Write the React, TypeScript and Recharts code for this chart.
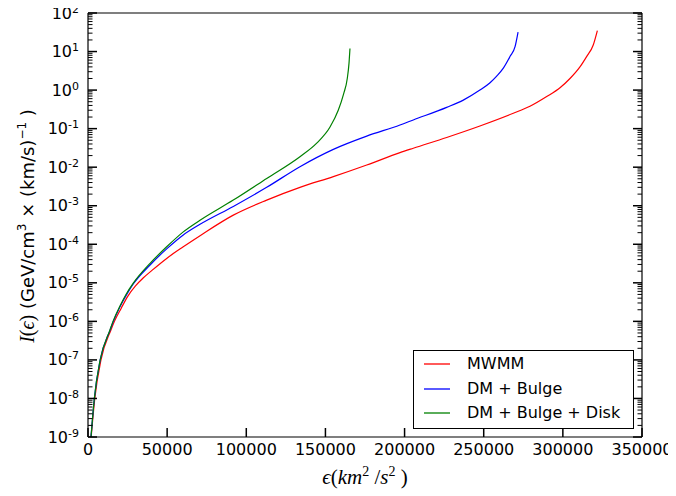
import { LineChart, Line, XAxis, YAxis, Legend, Label } from 'recharts';

// energy (km^2/s^2) and I(e), one pair of arrays per model
const mwmmE = [2000, 4300, 8200, 14500, 16700, 21000, 25000, 30000, 35000, 40400, 49700, 60200, 72000, 91800, 112900, 133900, 155000, 176100, 197100, 205500, 226600, 247600, 268700, 279200, 289800, 298200, 304500, 310800, 315000, 319200, 321800];
const mwmmI = [1e-9, 1e-8, 1e-7, 6e-7, 1e-6, 2.2e-6, 4.4e-6, 8.3e-6, 1.35e-5, 2.1e-5, 4.3e-5, 8.6e-5, 1.8e-4, 5.7e-4, 1.4e-3, 3.0e-3, 5.7e-3, 0.0114, 0.0238, 0.031, 0.059, 0.117, 0.25, 0.38, 0.68, 1.15, 2.0, 4.0, 7.4, 14.8, 35];

const bulgeE = [1900, 4000, 7700, 14000, 16000, 20200, 24200, 28600, 39200, 49700, 60200, 70760, 91800, 112900, 133900, 155000, 176100, 197100, 205500, 226600, 237100, 247600, 254000, 258200, 262400, 266600, 269800, 271700];
const bulgeI = [1e-9, 1e-8, 1e-7, 6e-7, 1e-6, 2.4e-6, 4.8e-6, 9.3e-6, 2.9e-5, 7.6e-5, 1.75e-4, 3.3e-4, 9.6e-4, 3.0e-3, 0.0103, 0.029, 0.064, 0.124, 0.168, 0.357, 0.55, 1.0, 1.55, 2.3, 3.7, 7.4, 13.4, 32];

const diskE = [1900, 4000, 7700, 13900, 15800, 20200, 24000, 28600, 39200, 49700, 60200, 70760, 91800, 112900, 133900, 144500, 152900, 158100, 161500, 163800, 164900, 165500];
const diskI = [1e-9, 1e-8, 1e-7, 6e-7, 1e-6, 2.5e-6, 5e-6, 9.8e-6, 3.2e-5, 8.6e-5, 2.1e-4, 4.2e-4, 1.4e-3, 5.1e-3, 0.0187, 0.042, 0.11, 0.3, 0.8, 2.0, 5.0, 12];

const seriesNames = ['MWMM', 'DM + Bulge', 'DM + Bulge + Disk'];
const seriesColors = ['#ff0000', '#0000ff', '#008000'];

const xTicks = [0, 50000, 100000, 150000, 200000, 250000, 300000, 350000];
const yDecades = [-9, -8, -7, -6, -5, -4, -3, -2, -1, 0, 1, 2];

const toRows = (es: number[], is: number[]) => es.map((e, i) => ({ e, I: is[i] }));
const seriesData = [toRows(mwmmE, mwmmI), toRows(bulgeE, bulgeI), toRows(diskE, diskI)];

// major decades plus 2..9 minor ticks
const yTicks: number[] = [];
yDecades.forEach((d, i) => {
  if (i === yDecades.length - 1) {
    yTicks.push(Math.pow(10, d));
    return;
  }
  for (let k = 1; k <= 9; k++) yTicks.push(k * Math.pow(10, d));
});

const FONT = 'DejaVu Sans';
const SERIF = 'Liberation Serif';

const isMajor = (v: number) => {
  const l = Math.log10(v);
  return Math.abs(l - Math.round(l)) < 1e-9;
};

const LeftTick = (props: any) => {
  const { x, y, payload } = props;
  const v = payload.value;
  const major = isMajor(v);
  const len = major ? 9 : 4.5;
  return (
    <g>
      <line x1={x} y1={y} x2={x + len} y2={y} stroke="#000" strokeWidth={major ? 1.5 : 1} />
      {major && (
        <text x={x - 9} y={y + 5.5} textAnchor="end" fontSize={16} fontFamily={FONT} fill="#000">
          <tspan>10</tspan>
          <tspan dy={-6} fontSize={11}>{String(Math.round(Math.log10(v)))}</tspan>
        </text>
      )}
    </g>
  );
};

const RightTick = (props: any) => {
  const { x, y, payload } = props;
  const major = isMajor(payload.value);
  const len = major ? 9 : 4.5;
  return <line x1={x} y1={y} x2={x - len} y2={y} stroke="#000" strokeWidth={major ? 1.5 : 1} />;
};

const BottomTick = (props: any) => {
  const { x, y, payload } = props;
  return (
    <g>
      <line x1={x} y1={y} x2={x} y2={y - 9} stroke="#000" strokeWidth={1.5} />
      <text x={x} y={y + 18} textAnchor="middle" fontSize={16} fontFamily={FONT} fill="#000">
        {payload.value}
      </text>
    </g>
  );
};

const TopTick = (props: any) => {
  const { x, y } = props;
  return <line x1={x} y1={y} x2={x} y2={y + 9} stroke="#000" strokeWidth={1.5} />;
};

const legendRowTops = [13, 38, 62];

const LegendBox = () => (
  <div
    style={{
      position: 'relative',
      width: 221,
      height: 79,
      boxSizing: 'border-box',
      border: '1px solid #000',
      background: '#fff',
      fontFamily: FONT,
      fontSize: 16,
      color: '#000',
    }}
  >
    {seriesNames.map((name, i) => (
      <div key={name}>
        <svg width={26} height={6} style={{ position: 'absolute', left: 10, top: legendRowTops[i] - 3 }}>
          <line x1={0} y1={3} x2={26} y2={3} stroke={seriesColors[i]} strokeWidth={1.3} />
        </svg>
        <div style={{ position: 'absolute', left: 53, top: legendRowTops[i] - 12, lineHeight: '24px', whiteSpace: 'nowrap' }}>{name}</div>
      </div>
    ))}
  </div>
);

const YTitle = () => (
  <text transform="translate(34,226) rotate(-90)" textAnchor="middle" fontSize={18} fontFamily={FONT} fill="#000">
    <tspan fontFamily={SERIF} fontStyle="italic" fontSize={20}>I</tspan>
    <tspan fontFamily={SERIF} fontSize={20}>(</tspan>
    <tspan fontFamily={SERIF} fontStyle="italic" fontSize={20}>ϵ</tspan>
    <tspan fontFamily={SERIF} fontSize={20}>)</tspan>
    <tspan> (GeV/cm</tspan>
    <tspan dy={-8} fontSize={12}>3</tspan>
    <tspan dy={8}> × (km/s)</tspan>
    <tspan dy={-8} fontSize={12}>−1</tspan>
    <tspan dy={8}> )</tspan>
  </text>
);

const XTitle = () => (
  <text x={365} y={484} textAnchor="middle" fontSize={21} fontFamily={SERIF} fill="#000">
    <tspan fontStyle="italic">ϵ</tspan>
    <tspan>(</tspan>
    <tspan fontStyle="italic">km</tspan>
    <tspan dy={-8} fontSize={14}>2</tspan>
    <tspan dy={8}> /</tspan>
    <tspan fontStyle="italic">s</tspan>
    <tspan dy={-8} fontSize={14}>2</tspan>
    <tspan dy={8}> )</tspan>
  </text>
);

export default function App() {
  return (
    <div style={{ margin: '-8px 0 0 -8px', width: 676, height: 496 }}>
      <LineChart width={676} height={496} margin={{ top: 12, right: 33, bottom: 19, left: 28 }}>
        <XAxis
          xAxisId="b"
          dataKey="e"
          type="number"
          domain={[0, 350000]}
          ticks={xTicks}
          interval={0}
          height={40}
          tickSize={0}
          tickMargin={0}
          tickLine={false}
          axisLine={{ stroke: '#000', strokeWidth: 1.2 }}
          tick={<BottomTick />}
        >
          <Label content={<XTitle />} />
        </XAxis>
        <XAxis
          xAxisId="t"
          orientation="top"
          type="number"
          domain={[0, 350000]}
          ticks={xTicks}
          interval={0}
          height={1}
          tickSize={0}
          tickMargin={0}
          tickLine={false}
          axisLine={{ stroke: '#000', strokeWidth: 1.2 }}
          tick={<TopTick />}
        />
        <YAxis
          yAxisId="l"
          type="number"
          scale="log"
          domain={[1e-9, 100]}
          allowDataOverflow
          ticks={yTicks}
          interval={0}
          width={60}
          tickSize={0}
          tickMargin={0}
          tickLine={false}
          axisLine={{ stroke: '#000', strokeWidth: 1.2 }}
          tick={<LeftTick />}
        >
          <Label content={<YTitle />} />
        </YAxis>
        <YAxis
          yAxisId="r"
          orientation="right"
          type="number"
          scale="log"
          domain={[1e-9, 100]}
          allowDataOverflow
          ticks={yTicks}
          interval={0}
          width={1}
          tickSize={0}
          tickMargin={0}
          tickLine={false}
          axisLine={{ stroke: '#000', strokeWidth: 1.2 }}
          tick={<RightTick />}
        />
        <Legend
          verticalAlign="middle"
          align="center"
          content={<LegendBox />}
          wrapperStyle={{ position: 'absolute', left: 413, top: 350, width: 221, height: 79 }}
        />
        {seriesData.map((rows, i) => (
          <Line
            key={seriesNames[i]}
            data={rows}
            xAxisId="b"
            yAxisId="l"
            dataKey="I"
            name={seriesNames[i]}
            type="monotone"
            stroke={seriesColors[i]}
            strokeWidth={1.2}
            dot={false}
            isAnimationActive={false}
          />
        ))}
      </LineChart>
    </div>
  );
}
